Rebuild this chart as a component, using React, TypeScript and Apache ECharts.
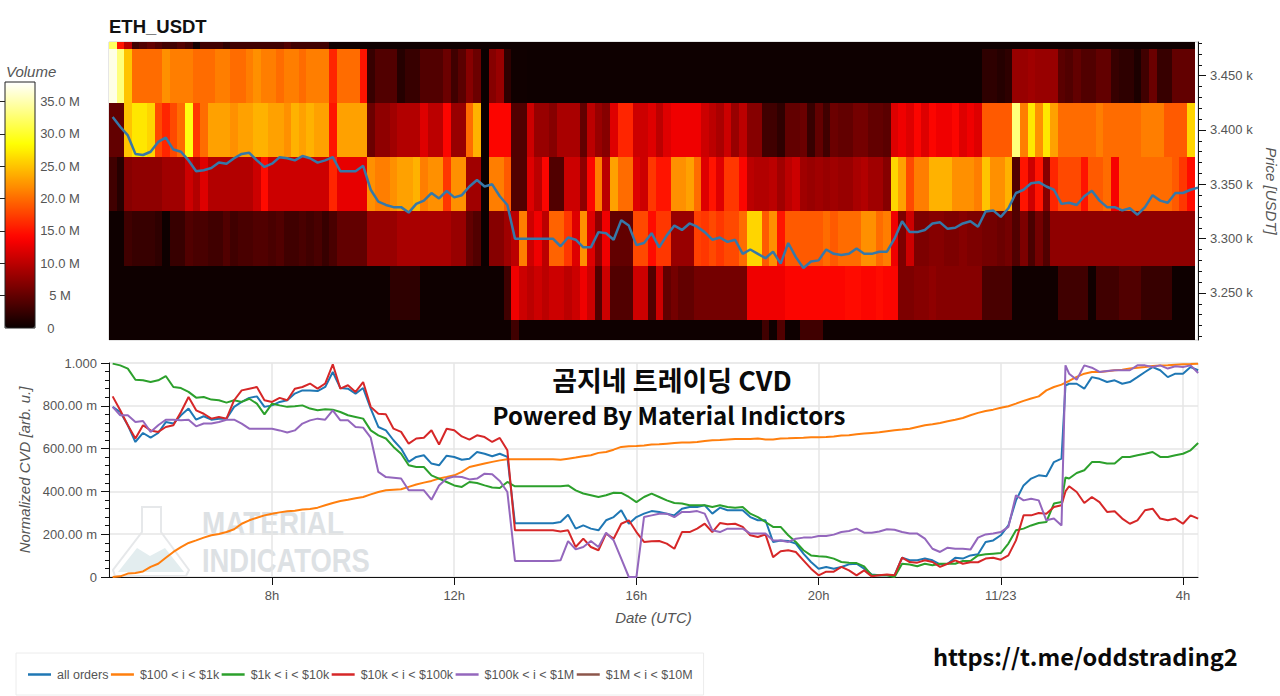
import React, { useEffect, useRef } from "react";
import * as echarts from "echarts";

const volTop = [
  32,15,10,3,4,5,4,3,3,4,
  3,0.5,3,3,3,2,3,3,3,3,
  3,3,3,4,3,3,3,3,3,0.2,
  0.2,0.2,0.2,0.2,0.2,0.2,0.2,0.2,0.2,0.2,
  0.2,0.2,0.2,0.2,0.2,0.2,0.2,0.2,0.2,0.2,
  0.2,0.2,0.2,0.2,0.2,0.2,0.2,0.2,0.2,0.2,
  0.2,0.2,0.2,0.2,0.2,0.2,0.2,0.2,0.2,0.2,
  0.2,0.2,0.2,0.2,0.2,0.2,0.2,0.2,0.2,0.2,
  0.2,0.2,0.2,0.2,0.2,0.2,0.2,0.2,0.2,0.2,
  0.2,0.2,0.2,0.2,0.2,0.2,0.2,0.2,0.2,0.2,
  0.2,0.2,0.2,0.2,0.2,0.2,0.2,0.2,0.2,0.2,
  0.2,0.2,0.2,0.2,0.2,0.2,0.2,0.2,0.2,0.2,
  0.2,0.2,0.2,0.2,0.2,0.2,0.2,0.2,0.2,0.2,
  0.2,0.2,0.2,0.2,0.2,0.2,0.2,0.2,0.2,0.2,
  0.2,0.2,0.2,
];
const vol3450 = [
  37,33,25,20,20,20,20,22,21,21,
  21,20,20,20,21,21,20,20,21,22,
  21,21,20,21,21,20,21,21,21,16,
  20,20,20,15,2.5,4,4,4,1.5,2.5,
  2.5,4,4,4,5.5,3,4.5,7,5.5,0,
  7,8,2,0.3,0.3,0.2,0.2,0.2,0.2,0.2,
  0.2,0.2,0.2,0.2,0.2,0.2,0.2,0.2,0.2,0.2,
  0.2,0.2,0.2,0.2,0.2,0.2,0.2,0.2,0.2,0.2,
  0.2,0.2,0.2,0.2,0.2,0.2,0.2,0.2,0.2,0.2,
  0.2,0.2,0.2,0.2,0.2,0.2,0.2,0.2,0.2,0.2,
  0.2,0.2,0.2,0.2,0.2,0.2,0.2,0.2,0.2,0.2,
  0.2,0.2,0.2,0.2,0.2,2,2,1.5,2,8,
  8,8.5,8,8,8,4.5,4,5,4,4,
  5,5,2.5,2,2,1,3,5.5,2.5,2.5,
  5,5,5,
];
const vol3400 = [
  5,5,25,27,27,26,18,16,18,20,
  29,17,20,23,23,23,22,23,23,24,
  24,23,23,22,24,23,24,23,23,15,
  23,23,23,23,5.5,7.5,7.5,8.5,9.5,9.5,
  9.5,12,10,10,14,8,8,20,24,0,
  14,14,14,4,4,11,8,8,7,9,
  9,9,5,10,8,7,12,16,16,11,
  11,12,10,12,13,13,13,13,11,10,
  9,11,8,10,7,7,3,3,2,5,
  5,5.5,2.5,5,3,5.5,5,5,6,6,
  5,5,4.5,12,13,12,14,12,14,13,
  13,14,12,13,12,19,19,19,19,33,
  21,27,22,27,23,20,20,20,20,20,
  21,20,20,20,20,20,21,21,21,19,
  19,19,26,
];
const vol3350 = [
  3,1.5,7,7.5,7.5,7.5,7.5,8.5,8.5,8.5,
  11,9.5,12,9.5,9.5,9.5,9.5,9.5,9.5,11,
  14.5,11,11,11,11,11,11,11,11,16,
  12.5,12.5,12.5,12.5,22,21,21,22,23,23,
  24,21,22,22,17,22,22,8.5,8.5,0,
  21,21,19,4,4,12,10,14,4,4,
  11,11,7.5,14,21,10,23,20,20,12,
  11,17,15,15,22,22,23,20,12,15,
  12,17,17,14,10,9.5,9.5,10,8.5,10,
  11,8.5,8,8.5,8,8.5,8,8,9,9.5,
  8.5,8.5,7,26,23,18,21,21,24,24,
  24,22,22,22,21,25,22,22,24,4,
  15,11,15,7,16,18,18,18,15,19,
  19,20,13.5,20,20,20,20,20,20,20,
  19,17,14.5,
];
const vol3300 = [
  0.2,0.2,3,2.5,2.5,2.5,2,0.2,2.5,2.5,
  4,3.5,3.5,3,3,4,3,3.5,3.5,4,
  4,3.5,4,3,3,3.5,3,3.5,2.5,3.5,
  5,5,5,5,8,8,8,8,9,9,
  9,9,9,9,9,8,8,5,4,0,
  7,7,8.5,10,21,11,13,10,19.5,19.5,
  17,12,22,12,7.5,13,5,5,5,18,
  18,14.5,17,17,8,8,8,17.5,17,18,
  17,18,18,20,26,26,19,22,15,19,
  19,19,19,19,20,19,20,20,20,22,
  22,20,21,13,6.5,11,6.5,6.5,7,7,
  6.5,6.5,7,6.5,6.5,6,6,5.5,6,4,
  6.5,3.5,6,4,7.5,7.5,7.5,7.5,7.5,7.5,
  7.5,7.5,7.5,7.5,7.5,7.5,7.5,7.5,7.5,7.5,
  7.5,7.5,7.5,
];
const vol3250 = [
  0.2,0.2,0.2,0.2,0.2,0.2,0.2,0.2,0.2,0.2,
  0.2,0.2,0.2,0.2,0.2,0.2,0.2,0.2,0.2,0.2,
  0.2,0.2,0.2,0.2,0.2,0.2,0.2,0.2,0.2,0.2,
  0.2,0.2,0.2,0.2,0.2,0.2,0.2,2,2,2,
  2,0.2,0.2,0.2,0.2,0.2,0.2,0.2,0.2,0.2,
  0.2,0.2,3,13,11,10,11,10,11,11,
  10,11,13,11,4,11,4,4,4,11,
  11,4,11,5,6,5,5,6,6,6,
  6,6,6,6,13,13,13,13,13,14,
  14,14,14,14,14,14,14,14.5,14.5,14,
  14,14.5,14,14,6.5,6.5,7,7,7.5,7,
  7,7,7,7,7,3.5,3.5,3.5,3.5,0.3,
  0.3,0.3,0.3,0.3,0.3,3,3,3,3,0.3,
  3,3,3,4,4,4,2.5,2.5,2.5,2.5,
  0.2,0.2,0.2,
];
const volBottom = [
  0.2,0.2,0.2,0.2,0.2,0.2,0.2,0.2,0.2,0.2,
  0.2,0.2,0.2,0.2,0.2,0.2,0.2,0.2,0.2,0.2,
  0.2,0.2,0.2,0.2,0.2,0.2,0.2,0.2,0.2,0.2,
  0.2,0.2,0.2,0.2,0.2,0.2,0.2,0.2,0.2,0.2,
  0.2,0.2,0.2,0.2,0.2,0.2,0.2,0.2,0.2,0.2,
  0.2,0.2,0.2,3,0.2,0.2,0.2,0.2,0.2,0.2,
  0.2,0.2,0.2,0.2,0.2,0.2,0.2,0.2,0.2,0.2,
  0.2,0.2,0.2,0.2,0.2,0.2,0.2,0.2,0.2,0.2,
  0.2,0.2,0.2,0.2,0.2,0.2,3,0.2,4,0.2,
  0.2,3,3,3,0.2,0.2,0.2,0.2,0.2,0.2,
  0.2,0.2,0.2,0.2,0.2,0.2,0.2,0.2,0.2,0.2,
  0.2,0.2,0.2,0.2,0.2,0.2,0.2,0.2,0.2,0.2,
  0.2,0.2,0.2,0.2,0.2,0.2,0.2,0.2,0.2,0.2,
  0.2,0.2,0.2,0.2,0.2,0.2,0.2,0.2,0.2,0.2,
  0.2,0.2,0.2,
];
const volumeRows = [volBottom, vol3250, vol3300, vol3350, vol3400, vol3450, volTop];
const priceEdges = [3206.7, 3225, 3275, 3325, 3375, 3425, 3475, 3481];

const price = [
  3412,3403,3395,3378,3377,3380,3389,3393,3382,3380,
  3372,3362,3363,3365,3370,3369,3374,3378,3379,3372,
  3366,3369,3375,3374,3372,3376,3374,3370,3372,3375,
  3362,3362,3362,3367,3345,3334,3331,3329,3329,3324,
  3332,3335,3342,3337,3344,3338,3340,3348,3354,3348,
  3350,3339,3331,3300,3300,3300,3300,3300,3300,3293,
  3301,3299,3292,3292,3306,3305,3299,3317,3312,3294,
  3296,3305,3292,3303,3312,3308,3314,3311,3306,3299,
  3301,3297,3299,3286,3290,3286,3282,3288,3277,3296,
  3283,3273,3279,3280,3290,3286,3285,3286,3291,3286,
  3286,3288,3288,3300,3316,3306,3306,3308,3314,3315,
  3309,3310,3314,3316,3311,3325,3326,3320,3328,3342,
  3345,3351,3352,3348,3345,3332,3333,3331,3339,3344,
  3335,3329,3329,3326,3328,3322,3329,3340,3335,3333,
  3342,3342,3345,3347,
];
const cvdAll = [
  795,771,709,631,673,651,673,724,717,756,
  787,735,751,735,740,740,795,818,837,844,
  795,802,818,826,857,872,872,869,888,958,
  883,880,857,883,787,701,685,639,600,538,
  561,569,530,522,567,561,548,553,584,576,
  564,576,561,251,251,251,251,251,251,257,
  291,226,241,226,218,265,280,312,249,280,
  296,308,304,296,288,319,327,327,335,296,
  324,312,312,312,280,265,265,164,171,168,
  156,109,70,39,47,39,47,59,62,39,
  12,8,8,8,90,78,78,86,78,59,
  62,90,86,101,106,164,171,195,241,358,
  428,460,475,471,537,553,903,903,880,934,
  926,911,919,903,911,934,958,981,966,934,
  950,950,981,966,
];
const cvd100 = [
  0,3,16,19,26,47,62,90,117,140,
  159,171,184,195,201,210,223,249,265,277,
  288,296,302,307,310,315,318,324,335,346,
  355,361,368,374,386,397,405,408,410,421,
  432,441,449,460,467,475,491,514,522,530,
  538,545,550,550,550,550,550,550,550,548,
  553,558,564,569,580,584,595,608,611,612,
  615,619,620,623,626,628,629,631,636,639,
  640,643,645,645,645,647,643,642,647,648,
  650,651,653,653,654,657,661,662,667,670,
  673,676,681,686,689,693,701,709,714,720,
  728,735,743,756,767,776,782,791,798,810,
  823,834,844,872,888,899,916,935,950,958,
  958,961,966,969,974,978,981,986,988,989,
  992,994,995,997,
];
const cvd1k = [
  997,989,974,922,919,911,919,939,888,883,
  865,838,841,829,826,815,826,818,833,810,
  760,810,802,795,798,802,787,779,784,782,
  771,756,748,740,685,662,647,608,576,522,
  514,514,475,460,444,428,421,444,439,428,
  418,416,444,424,424,424,424,424,424,424,
  428,405,390,382,374,382,394,393,374,350,
  374,390,374,358,346,343,335,335,335,327,
  335,327,324,327,296,280,257,234,234,195,
  164,125,101,97,95,86,70,67,65,50,
  8,8,8,0,62,58,50,62,55,62,
  62,62,75,75,101,106,109,112,156,218,
  226,241,252,257,343,350,460,486,499,537,
  537,530,530,561,561,569,576,584,561,561,
  569,576,592,626,
];
const cvd10k = [
  844,779,709,647,709,685,678,701,709,771,
  841,779,763,740,748,740,826,872,880,888,
  826,818,837,826,880,888,904,880,904,994,
  880,896,865,911,795,763,760,693,678,623,
  647,651,686,619,693,686,657,642,662,654,
  631,650,592,218,218,218,218,218,218,213,
  218,140,179,140,125,203,179,249,265,210,
  164,167,168,156,132,210,210,226,249,210,
  252,246,249,234,195,187,199,93,120,125,
  117,78,39,8,25,25,47,31,8,31,
  3,8,12,8,90,70,67,78,70,47,
  62,78,62,69,69,86,90,81,101,171,
  288,288,299,296,327,335,424,397,346,374,
  350,304,307,273,249,265,312,319,273,265,
  273,249,288,273,
];
const cvd100k = [
  795,756,756,724,729,678,709,735,735,732,
  735,704,717,717,724,735,735,717,693,693,
  693,693,685,675,685,717,732,740,735,779,
  732,732,701,698,651,491,467,464,460,405,
  405,405,361,428,460,470,467,456,460,483,
  480,449,397,75,75,75,75,75,75,78,
  168,129,140,168,140,207,171,86,0,0,
  280,288,296,296,280,304,304,308,296,218,
  210,226,226,226,203,203,203,171,171,164,
  179,184,184,192,192,198,210,215,226,207,
  207,213,223,221,210,203,203,179,132,117,
  137,132,132,128,184,199,203,210,234,382,
  358,366,358,265,273,241,950,922,989,978,
  958,963,966,966,966,989,989,981,989,974,
  985,981,989,953,
];
const cvd1m: number[] = [];

// one more reading each, right after the jump near 25.4h, between two regular samples
const jumpHour = 25.42;
const jumpValues = [895, 908, 465, 400, 989, NaN];

const seriesNames = ["all orders", "$100 < i < $1k", "$1k < i < $10k", "$10k < i < $100k", "$100k < i < $1M", "$1M < i < $10M"];
const seriesColors = ["#1f77b4", "#ff7f0e", "#2ca02c", "#d62728", "#9467bd", "#8c564b"];
const seriesValues = [cvdAll, cvd100, cvd1k, cvd10k, cvd100k, cvd1m];

const hourTicks = [8, 12, 16, 20, 24, 28];
const hourLabels = ["8h", "12h", "16h", "20h", "11/23", "4h"];
const priceTicks = [3250, 3300, 3350, 3400, 3450];
const priceMinorTicks = [3210,3220,3230,3240,3260,3270,3280,3290,3310,3320,3330,3340,3360,3370,3380,3390,3410,3420,3430,3440,3460,3470,3480];
const volumeTicks = [0, 5, 10, 15, 20, 25, 30, 35];
const volumeLabels = ["0\u00a0\u00a0\u00a0\u00a0\u00a0", "5 M", "10.0 M", "15.0 M", "20.0 M", "25.0 M", "30.0 M", "35.0 M"];

const X_MIN = 4.42;
const X_MAX = 28.33;
const SAMPLE_START = 4.5;
const STEP = 1 / 6;

function hot(t: number) {
  const r = Math.min(1, 0.0416 + (t / 0.365) * 0.9584);
  const g = t < 0.365 ? 0 : Math.min(1, (t - 0.365) / 0.381);
  const b = t < 0.746 ? 0 : (t - 0.746) / 0.254;
  const h = (v: number) => Math.round(v * 255).toString(16).padStart(2, "0");
  return `#${h(r)}${h(g)}${h(b)}`;
}

const FONT = "'Liberation Sans', Arial, sans-serif";
const GREY = "#555";

export default function App() {
  const ref = useRef<HTMLDivElement>(null);
  useEffect(() => {
    if (!ref.current) return;
    const chart = echarts.init(ref.current, undefined, { renderer: "svg" });
    const cells: number[][] = [];
    volumeRows.forEach((row, r) => {
      row.forEach((v, k) => {
        cells.push([X_MIN + k * STEP, X_MIN + (k + 1) * STEP, priceEdges[r], priceEdges[r + 1], v]);
      });
    });
    const palette: string[] = [];
    for (let i = 0; i <= 40; i++) palette.push(hot(i / 40));
    const at = (i: number) => SAMPLE_START + i * STEP;
    const withJump = (values: number[], s: number) => {
      const pts = values.map((v, i) => [at(i), v]);
      if (values.length && !Number.isNaN(jumpValues[s])) {
        pts.push([jumpHour, jumpValues[s]]);
        pts.sort((a, b) => a[0] - b[0]);
      }
      return pts;
    };

    const option: any = {
      animation: false,
      textStyle: { fontFamily: FONT },
      grid: [
        { left: 109, right: 82, top: 42, height: 298, show: true, borderColor: "#ccc", borderWidth: 1, backgroundColor: "#fff", outerBoundsMode: "none" },
        { left: 109, right: 82, top: 363, height: 214, show: true, borderColor: "#ececec", borderWidth: 1, outerBoundsMode: "none" },
        { left: 5, width: 30, top: 82, height: 246, outerBoundsMode: "none" },
      ],
      xAxis: [
        { type: "value", gridIndex: 0, min: X_MIN, max: X_MAX, show: false },
        {
          type: "value", gridIndex: 1, min: X_MIN, max: X_MAX,
          name: "Date (UTC)", nameLocation: "middle", nameGap: 33,
          nameTextStyle: { fontStyle: "italic", fontSize: 15, color: GREY, fontFamily: FONT },
          axisLine: { show: true, onZero: false, lineStyle: { color: "#111", width: 1 } },
          axisTick: { show: true, length: 8, customValues: hourTicks, lineStyle: { color: "#111" } },
          axisLabel: {
            customValues: hourTicks, color: GREY, fontSize: 13, margin: 12, fontFamily: FONT,
            formatter: (v: number) => hourLabels[hourTicks.indexOf(v)] ?? "",
          },
          splitLine: { show: true, lineStyle: { color: "#e6e6e6", width: 1.5 } },
        },
        { type: "value", gridIndex: 2, min: 0, max: 1, show: false },
      ],
      yAxis: [
        {
          type: "value", gridIndex: 0, position: "right", min: 3206.7, max: 3481,
          name: "Price [USDT]", nameLocation: "middle", nameRotate: -90, nameGap: 63,
          nameTextStyle: { fontStyle: "italic", fontSize: 15, color: GREY, fontFamily: FONT },
          axisLine: { show: true, lineStyle: { color: "#111" } },
          axisTick: { show: true, length: 8, customValues: priceTicks, lineStyle: { color: "#111" } },
          axisLabel: {
            customValues: priceTicks, color: GREY, fontSize: 13, margin: 12, fontFamily: FONT,
            formatter: (v: number) => `${(v / 1000).toFixed(3)} k`,
          },
          splitLine: { show: false },
        },
        {
          type: "value", gridIndex: 0, position: "right", min: 3206.7, max: 3481,
          axisLine: { show: false },
          axisTick: { show: true, length: 4, customValues: priceMinorTicks, lineStyle: { color: "#111" } },
          axisLabel: { show: false },
          splitLine: { show: false },
        },
        {
          type: "value", gridIndex: 1, min: 0, max: 1000, interval: 200,
          name: "Normalized CVD [arb. u.]", nameLocation: "middle", nameGap: 74,
          nameTextStyle: { fontStyle: "italic", fontSize: 15, color: GREY, fontFamily: FONT },
          axisLine: { show: true, lineStyle: { color: "#111" } },
          axisTick: { show: true, length: 8, lineStyle: { color: "#111" } },
          minorTick: { show: true, splitNumber: 5, length: 4, lineStyle: { color: "#111" } },
          axisLabel: {
            color: GREY, fontSize: 13, margin: 12, fontFamily: FONT,
            formatter: (v: number) => (v === 0 ? "0" : v === 1000 ? "1.000" : `${v.toFixed(2)} m`),
          },
          splitLine: { show: true, lineStyle: { color: "#e6e6e6", width: 1.5 } },
        },
        {
          type: "value", gridIndex: 2, position: "right", min: 0, max: 38, z: 6,
          axisLine: { show: false },
          axisTick: { show: true, inside: true, length: 6, customValues: volumeTicks.slice(1), lineStyle: { color: "#222" } },
          axisLabel: {
            customValues: volumeTicks, align: "center", margin: 25, color: GREY, fontSize: 13, fontFamily: FONT,
            formatter: (v: number) => volumeLabels[volumeTicks.indexOf(v)] ?? "",
          },
          splitLine: { show: false },
        },
      ],
      visualMap: [{
        type: "continuous", min: 0, max: 38, seriesIndex: 0, dimension: 4, show: true,
        left: 5, top: 82, itemWidth: 30, itemHeight: 246, padding: 0, calculable: false,
        hoverLink: false, realtime: false, inRange: { color: palette },
      }],
      legend: {
        left: 16, top: 653, padding: [15, 11, 14, 12], itemGap: 2.5, itemWidth: 23, itemHeight: 2.5, icon: "rect",
        borderColor: "#ececec", borderWidth: 1, data: seriesNames,
        textStyle: { fontSize: 12.5, color: GREY, fontFamily: FONT, padding: [0, 0, 0, 1] },
      },
      series: [
        {
          type: "custom", xAxisIndex: 0, yAxisIndex: 0, data: cells, z: 1,
          encode: { x: [0, 1], y: [2, 3] },
          renderItem: (_: any, api: any) => {
            const a = api.coord([api.value(0), api.value(3)]);
            const b = api.coord([api.value(1), api.value(2)]);
            const x0 = Math.round(a[0]);
            const x1 = Math.round(b[0]);
            const y0 = Math.round(a[1]);
            const y1 = Math.round(b[1]);
            return {
              type: "rect",
              shape: { x: x0, y: y0, width: x1 - x0, height: y1 - y0 },
              style: { fill: api.visual("color") },
            };
          },
        },
        {
          type: "line", name: "price", xAxisIndex: 0, yAxisIndex: 0, z: 3, symbol: "none",
          data: price.map((v, i) => [at(i), v]),
          lineStyle: { color: "#3678a8", width: 2.5 }, itemStyle: { color: "#3678a8" },
        },
        ...seriesNames.map((name, s) => ({
          type: "line", name, xAxisIndex: 1, yAxisIndex: 2, z: 3, symbol: "none",
          data: withJump(seriesValues[s], s),
          lineStyle: { color: seriesColors[s], width: 2 },
          itemStyle: { color: seriesColors[s] },
        })),
      ],
      graphic: {
        elements: [
          { type: "rect", z: 10, shape: { x: 5, y: 82, width: 30, height: 246 }, style: { fill: "none", stroke: "#222", lineWidth: 1 } },
          { type: "text", x: 109, y: 26, style: { text: "ETH_USDT", font: `bold 18.5px ${FONT}`, fill: "#111", textVerticalAlign: "middle" } },
          { type: "text", x: 6, y: 71.5, style: { text: "Volume", font: `italic 15px ${FONT}`, fill: GREY, textVerticalAlign: "middle" } },
          { type: "text", x: 672, y: 379, z: 10, style: { text: "곰지네 트레이딩 CVD", font: "bold 27px 'Noto Sans CJK KR'", fill: "#0a0a0a", textAlign: "center", textVerticalAlign: "middle" } },
          { type: "text", x: 669, y: 414, z: 10, style: { text: "Powered By Material Indictors", font: "bold 24px 'Noto Sans CJK KR'", fill: "#0a0a0a", textAlign: "center", textVerticalAlign: "middle" } },
          { type: "text", x: 933, y: 656, z: 10, style: { text: "https://t.me/oddstrading2", font: "bold 23.6px 'Noto Sans CJK KR'", fill: "#0a0a0a", textVerticalAlign: "middle" } },
          { type: "polygon", z: 0, shape: { points: [[142, 507], [161, 507], [161, 532], [189, 570], [186, 576], [115, 576], [113, 570], [142, 532]] }, style: { fill: "none", stroke: "#e6e8ea", lineWidth: 2 } },
          { type: "polygon", z: 0, shape: { points: [[137, 548], [150, 556], [165, 548], [184, 572], [118, 572]] }, style: { fill: "#e3edef" } },
          { type: "text", z: 0, x: 202, y: 524, scaleX: 0.82, style: { text: "MATERIAL", font: `bold 34px ${FONT}`, fill: "#dde1e4", textVerticalAlign: "middle" } },
          { type: "text", z: 0, x: 202, y: 560, scaleX: 0.805, style: { text: "INDICATORS", font: `bold 34px ${FONT}`, fill: "#dde1e4", textVerticalAlign: "middle" } },
        ],
      },
    };
    chart.setOption(option);
    return () => chart.dispose();
  }, []);
  return (
    <div style={{ position: "fixed", left: 0, top: 0, width: 1280, height: 696, background: "#fff", overflow: "hidden" }}>
      <div ref={ref} style={{ width: 1280, height: 696 }} />
    </div>
  );
}
